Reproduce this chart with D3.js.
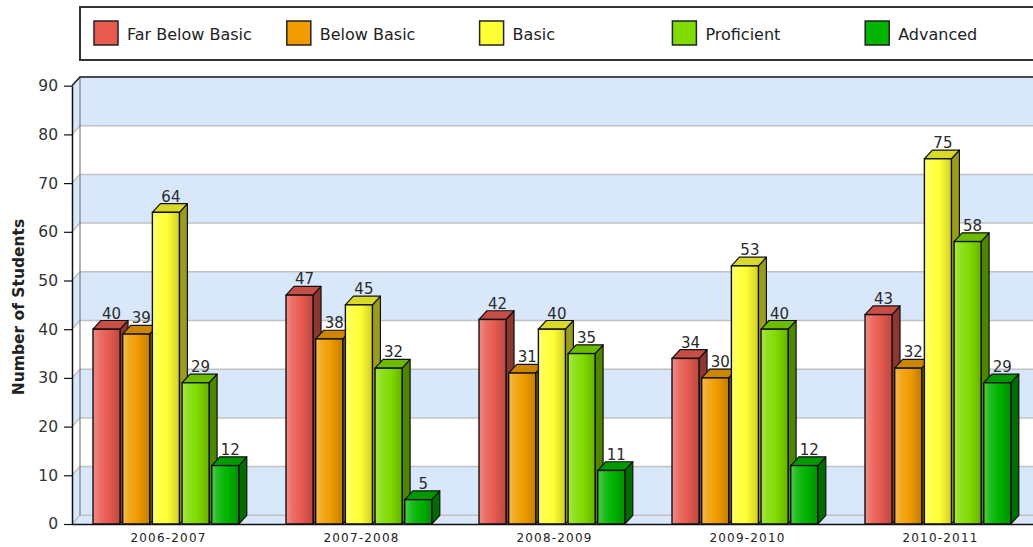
<!DOCTYPE html>
<html>
<head>
<meta charset="utf-8">
<script src="https://cdn.jsdelivr.net/npm/d3@7"></script>
<style>
  html, body { margin: 0; padding: 0; background: #fff; }
  svg { display: block; }
  text { font-family: "DejaVu Sans", sans-serif; }
</style>
</head>
<body>
<svg id="chart" width="1033" height="547"></svg>
<script>
// School years on the category axis
const categories = ["2006-2007", "2007-2008", "2008-2009", "2009-2010", "2010-2011"];

// Performance levels and their colours
const seriesNames = ["Far Below Basic", "Below Basic", "Basic", "Proficient", "Advanced"];
const seriesColors = ["#e85b50", "#f09c00", "#ffff33", "#80dc00", "#00b400"];

// Number of students per level, one value per school year
const farBelowBasic = [40, 47, 42, 34, 43];
const belowBasic    = [39, 38, 31, 30, 32];
const basic         = [64, 45, 40, 53, 75];
const proficient    = [29, 32, 35, 40, 58];
const advanced      = [12, 5, 11, 12, 29];

const yTicks = [0, 10, 20, 30, 40, 50, 60, 70, 80, 90];
const yTitle = "Number of Students";

const seriesValues = [farBelowBasic, belowBasic, basic, proficient, advanced];

(function draw() {
const svg = d3.select("#chart");

// Plot frame with a 3D depth offset
const plotLeft = 72, plotRight = 1037, plotBottom = 524, plotTop = 85.7;
const DX = 8, DY = 8.7;
const wallRight = 1045;

const x0 = d3.scaleBand().domain(categories).range([plotLeft, plotRight]).padding(0);
const x1 = d3.scaleBand().domain(seriesNames).range([21, 166.8]).paddingInner(0.09).paddingOuter(0);
const y = d3.scaleLinear().domain([0, 90]).range([plotBottom, plotTop]);

const bandBlue = "#d9e7fb";
const gridGray = "#c2c2c2";

// --- back wall, left wall and floor ---
const walls = svg.append("g");
for (let i = 0; i < yTicks.length - 1; i++) {
  const v0 = yTicks[i], v1 = yTicks[i + 1];
  const fill = i % 2 === 0 ? bandBlue : "#ffffff";
  // back wall band
  walls.append("rect")
    .attr("x", plotLeft + DX).attr("y", y(v1) - DY)
    .attr("width", wallRight - plotLeft - DX).attr("height", y(v0) - y(v1))
    .attr("fill", fill);
  // left wall band
  walls.append("path")
    .attr("d", `M${plotLeft},${y(v0)} L${plotLeft + DX},${y(v0) - DY} L${plotLeft + DX},${y(v1) - DY} L${plotLeft},${y(v1)} Z`)
    .attr("fill", fill);
}
// floor
walls.append("path")
  .attr("d", `M${plotLeft},${plotBottom} L${plotLeft + DX},${plotBottom - DY} L${wallRight},${plotBottom - DY} L${wallRight},${plotBottom} Z`)
  .attr("fill", bandBlue);

// grid lines on the back wall, folding onto the left wall
yTicks.forEach(v => {
  walls.append("path")
    .attr("d", `M${plotLeft},${y(v)} L${plotLeft + DX},${y(v) - DY} L${wallRight},${y(v) - DY}`)
    .attr("fill", "none")
    .attr("stroke", gridGray).attr("stroke-width", 1.5);
});
// wall edges
walls.append("line")
  .attr("x1", plotLeft + DX).attr("x2", plotLeft + DX)
  .attr("y1", y(90) - DY).attr("y2", plotBottom - DY)
  .attr("stroke", "#666").attr("stroke-width", 1);
walls.append("path")
  .attr("d", `M${plotLeft},${y(90)} L${plotLeft + DX},${y(90) - DY} L${wallRight},${y(90) - DY}`)
  .attr("fill", "none").attr("stroke", "#222").attr("stroke-width", 1.5);

// --- gradients for bar fronts ---
const defs = svg.append("defs");
seriesColors.forEach((c, i) => {
  const base = d3.color(c);
  const g = defs.append("linearGradient")
    .attr("id", "grad" + i).attr("x1", "0%").attr("x2", "100%").attr("y1", "0%").attr("y2", "0%");
  g.append("stop").attr("offset", "0%").attr("stop-color", d3.interpolateRgb(c, "#ffffff")(0.3));
  g.append("stop").attr("offset", "25%").attr("stop-color", d3.interpolateRgb(c, "#ffffff")(0.12));
  g.append("stop").attr("offset", "55%").attr("stop-color", c);
  g.append("stop").attr("offset", "100%").attr("stop-color", base.darker(0.6).formatHex());
});

// --- bars, drawn left to right so each one covers its neighbour's side ---
const bars = svg.append("g");
categories.forEach((cat, ci) => {
  seriesNames.forEach((name, si) => {
    const v = seriesValues[si][ci];
    const xl = x0(cat) + x1(name);
    const w = x1.bandwidth();
    const yt = y(v), yb = y(0);
    const base = d3.color(seriesColors[si]);
    const g = bars.append("g");
    // side face
    g.append("path")
      .attr("d", `M${xl + w},${yt} L${xl + w + DX},${yt - DY} L${xl + w + DX},${yb - DY} L${xl + w},${yb} Z`)
      .attr("fill", base.darker(1.4).formatHex())
      .attr("stroke", "#111").attr("stroke-width", 1.2).attr("stroke-linejoin", "round");
    // top face
    g.append("path")
      .attr("d", `M${xl},${yt} L${xl + DX},${yt - DY} L${xl + w + DX},${yt - DY} L${xl + w},${yt} Z`)
      .attr("fill", base.darker(0.45).formatHex())
      .attr("stroke", "#111").attr("stroke-width", 1.2).attr("stroke-linejoin", "round");
    // front face
    g.append("rect")
      .attr("x", xl).attr("y", yt).attr("width", w).attr("height", yb - yt)
      .attr("fill", `url(#grad${si})`)
      .attr("stroke", "#111").attr("stroke-width", 1.4);
    // value label
    g.append("text")
      .attr("x", xl + w / 2 + DX / 2 + 1)
      .attr("y", yt - DY - 2)
      .attr("text-anchor", "middle")
      .attr("font-size", 15)
      .attr("fill", "#2a2a2a")
      .text(v);
  });
});

// --- axes ---
const yAxis = svg.append("g")
  .attr("transform", `translate(${plotLeft},0)`)
  .call(d3.axisLeft(y).tickValues(yTicks).tickSize(8).tickSizeOuter(0).tickPadding(6));
yAxis.select(".domain").attr("stroke", "#111").attr("stroke-width", 1.5);
yAxis.selectAll(".tick line").attr("stroke", "#111").attr("stroke-width", 1.2);
yAxis.selectAll(".tick text")
  .attr("font-size", 15.5).attr("fill", "#333")
  .style("font-family", "DejaVu Sans, sans-serif");

const xAxis = svg.append("g")
  .attr("transform", `translate(0,${plotBottom})`)
  .call(d3.axisBottom(x0).tickSize(0).tickSizeOuter(0).tickPadding(9));
xAxis.select(".domain").attr("d", `M${plotLeft},0.5H${wallRight}`).attr("stroke", "#111").attr("stroke-width", 1.5);
xAxis.selectAll(".tick text")
  .attr("font-size", 12).attr("fill", "#222")
  .attr("letter-spacing", 1.2)
  .style("font-family", "DejaVu Sans, sans-serif");

svg.append("text")
  .attr("transform", `translate(24,307) rotate(-90)`)
  .attr("text-anchor", "middle")
  .attr("font-size", 15.5)
  .attr("font-weight", "bold")
  .attr("fill", "#222")
  .text(yTitle);

// --- legend ---
const legend = svg.append("g");
legend.append("rect")
  .attr("x", 80).attr("y", 7).attr("width", 975).attr("height", 53)
  .attr("fill", "#fff").attr("stroke", "#333").attr("stroke-width", 2);
seriesNames.forEach((name, i) => {
  const lx = 94 + i * 192.8;
  legend.append("rect")
    .attr("x", lx).attr("y", 21).attr("width", 24).attr("height", 24)
    .attr("fill", seriesColors[i]).attr("stroke", "#222").attr("stroke-width", 1.5);
  legend.append("text")
    .attr("x", lx + 33).attr("y", 39.5)
    .attr("font-size", 16).attr("fill", "#222")
    .text(name);
});
})();
</script>
</body>
</html>
